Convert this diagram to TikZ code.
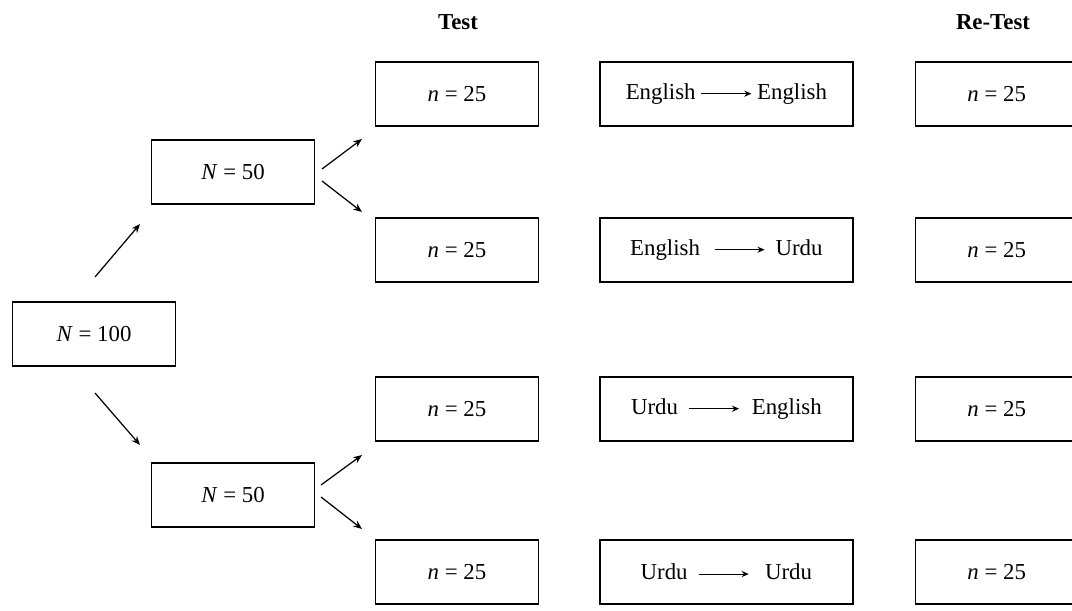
\documentclass[tikz,border=0pt]{standalone}
\usepackage{fontspec}
\setmainfont{Liberation Serif}
\usepackage{tikz}
\usetikzlibrary{positioning}
\usetikzlibrary{arrows.meta}
\tikzset{
    design/.style={
            x=0.02cm,y=-0.02cm,
            font=\fontsize{13}{15}\selectfont,
            box/.style={draw,line width=0.8pt,minimum width=3.26cm,minimum height=1.28cm,inner sep=0pt},
            widebox/.style={box,minimum width=5.06cm},
            head/.style={font=\fontsize{13}{15}\selectfont\bfseries},
            arrow/.style={-{Stealth[length=5pt,width=4pt]},line width=0.7pt}
        }
    }
\newcommand{\langto}[1]{\tikz[baseline=-0.55ex]\draw[-{Stealth[length=4pt,width=3.5pt]},line width=0.6pt] (0,0) -- (#1,0);}

\begin{document}
\begin{tikzpicture}[design]
        \useasboundingbox (0,0) rectangle (1072,611);

        \node (test) [head] at (458,22) {Test};
        \node (retest) [head] at (993,22) {Re-Test};

        \node (N100) [box] at (94,334) {\textit{N} = 100};
        \node (N50a) [box] at (233,172) {\textit{N} = 50};
        \node (N50b) [box] at (233,495) {\textit{N} = 50};

        \node (T1) [box] at (457,94) {\textit{n} = 25};
        \node (T2) [box] at (457,250) {\textit{n} = 25};
        \node (T3) [box] at (457,409) {\textit{n} = 25};
        \node (T4) [box] at (457,572) {\textit{n} = 25};

        \node (EE) [widebox, right=1.2cm of T1] {English\hspace{3pt}\langto{1cm}\hspace{3pt}English};
        \node (EU) [widebox, right=1.2cm of T2] {English\hspace{8pt}\langto{1cm}\hspace{6pt}Urdu};
        \node (UE) [widebox, right=1.2cm of T3] {Urdu\hspace{6pt}\langto{1cm}\hspace{7pt}English};
        \node (UU) [widebox, right=1.2cm of T4] {Urdu\hspace{6pt}\langto{1cm}\hspace{9pt}Urdu};

        \node (R1) [box, right=1.22cm of EE] {\textit{n} = 25};
        \node (R2) [box, right=1.22cm of EU] {\textit{n} = 25};
        \node (R3) [box, right=1.22cm of UE] {\textit{n} = 25};
        \node (R4) [box, right=1.22cm of UU] {\textit{n} = 25};

        % free arrow ends
        \coordinate (up1) at (95,277);
        \coordinate (up2) at (140,224);
        \coordinate (dn1) at (95,393);
        \coordinate (dn2) at (140,445);
        \coordinate (a1) at (322,169);
        \coordinate (a2) at (362,139);
        \coordinate (a3) at (322,181);
        \coordinate (a4) at (362,212);
        \coordinate (b1) at (321,485);
        \coordinate (b2) at (362,455);
        \coordinate (b3) at (321,497);
        \coordinate (b4) at (362,529);

        \draw [arrow] (up1) -- (up2);
        \draw [arrow] (dn1) -- (dn2);
        \draw [arrow] (a1) -- (a2);
        \draw [arrow] (a3) -- (a4);
        \draw [arrow] (b1) -- (b2);
        \draw [arrow] (b3) -- (b4);
    \end{tikzpicture}
\end{document}
